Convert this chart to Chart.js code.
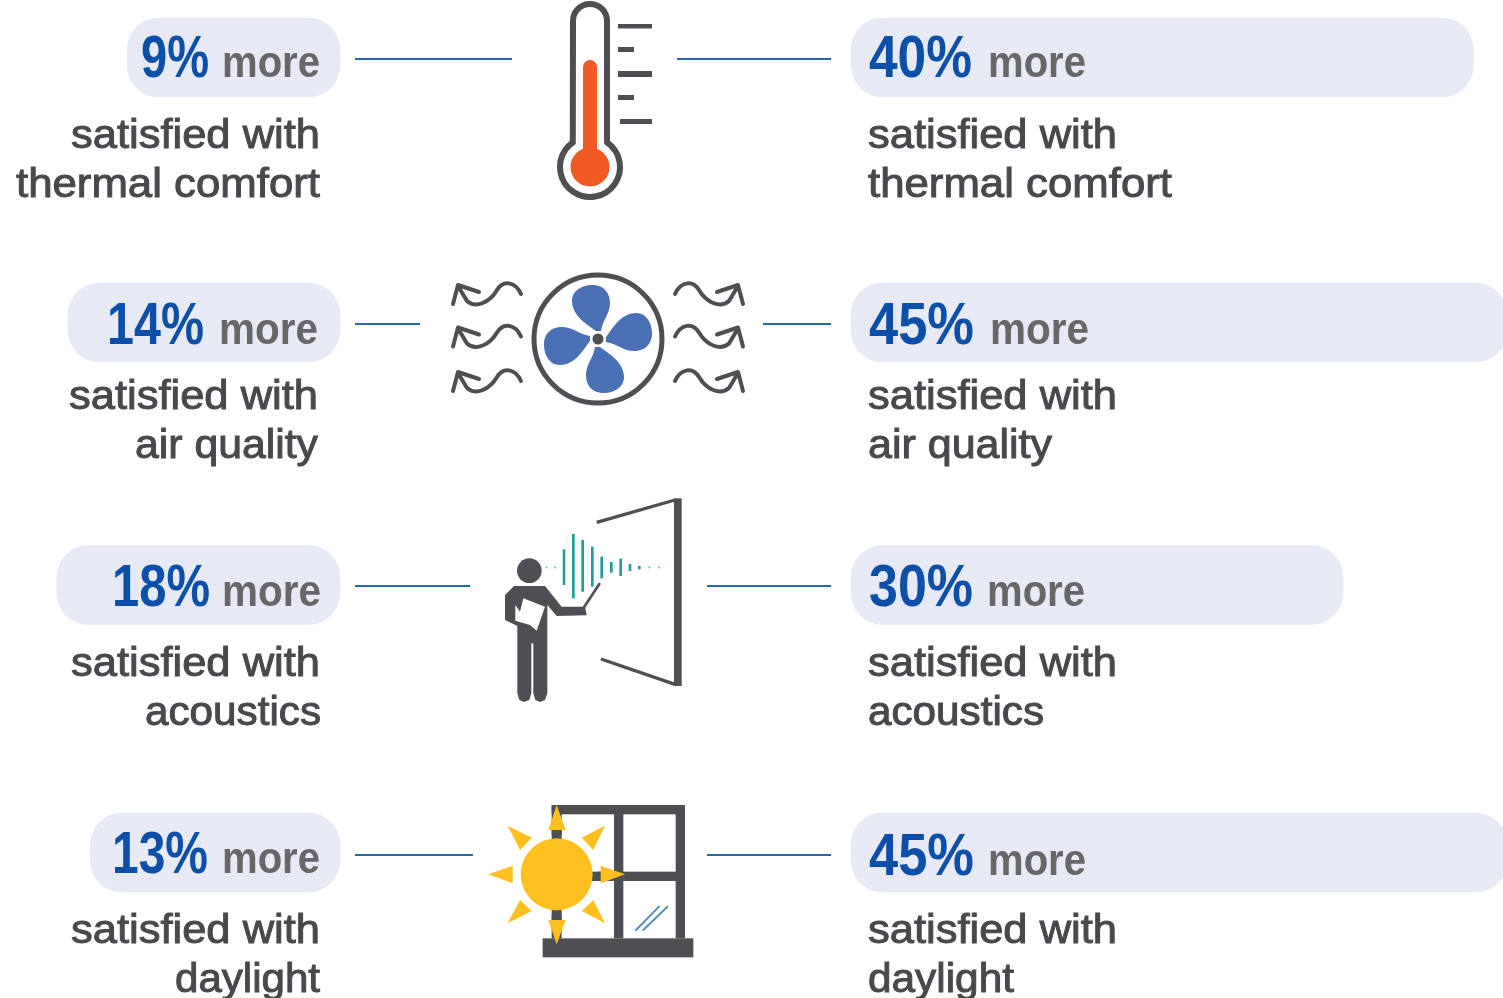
<!DOCTYPE html>
<html>
<head>
<meta charset="utf-8">
<title>Satisfaction</title>
<script src="https://cdn.jsdelivr.net/npm/chart.js@4/dist/chart.umd.min.js"></script>
<style>
  html, body { margin: 0; padding: 0; background: #fff; overflow: hidden; }
  canvas { display: block; }
</style>
</head>
<body>
<canvas id="myChart" width="1503" height="998"></canvas>
<script>
const categories = ['thermal comfort', 'air quality', 'acoustics', 'daylight'];
const leftPercent = [9, 14, 18, 13];
const rightPercent = [40, 45, 30, 45];
// pill lengths, the pills are not drawn to scale with the labels
const leftPillLength = [13.3, 17, 17.7, 15.6];
const rightPillLength = [38.9, 41, 30.75, 41];

const GREY = '#4d4f53';
const BLUE_TEXT = '#0b4fa8';
const PILL = '#e7e9f5';
const LABEL_FONT = '41px "Liberation Sans"';
const PERCENT_FONT = 'bold 60px "Liberation Sans"';
const MORE_FONT = 'bold 44px "Liberation Sans"';

// squeeze or stretch a text so it takes the width it has in the picture
function fitText(ctx, text, x, y, width, heavier) {
    const natural = ctx.measureText(text).width;
    ctx.save();
    ctx.translate(x, y);
    ctx.scale(width / natural, 1);
    ctx.fillText(text, 0, 0);
    if (heavier) {
        ctx.strokeStyle = ctx.fillStyle;
        ctx.lineWidth = heavier;
        ctx.strokeText(text, 0, 0);
    }
    ctx.restore();
}

function drawTexts(ctx) {
    const sideLayout = [
        {
            percent: leftPercent,
            percentX: [[141, 68], [107, 97], [112, 98], [112, 96]],
            moreX: [[222, 98], [219, 99], [222, 99], [222, 98]],
            baseline: [77, 344, 606, 873],
            line1: [[71, 249], [69, 249], [71, 249], [71, 249]],
            line2: [[16, 304], [135, 183], [145, 176], [175, 145]]
        },
        {
            percent: rightPercent,
            percentX: [[869, 103], [869, 105], [869, 104], [869, 105]],
            moreX: [[988, 98], [990, 99], [987, 98], [988, 98]],
            baseline: [77, 344, 606, 875],
            line1: [[868, 249], [868, 249], [868, 249], [868, 249]],
            line2: [[868, 304], [868, 184], [868, 176], [868, 146]]
        }
    ];
    const line1Y = [148, 409, 676, 943];
    const line2Y = [197, 458, 725, 992];

    ctx.save();
    ctx.textAlign = 'left';
    ctx.textBaseline = 'alphabetic';
    sideLayout.forEach(side => {
        categories.forEach((name, i) => {
            ctx.fillStyle = BLUE_TEXT;
            ctx.font = PERCENT_FONT;
            fitText(ctx, side.percent[i] + '%', side.percentX[i][0], side.baseline[i], side.percentX[i][1]);
            ctx.fillStyle = '#666769';
            ctx.font = MORE_FONT;
            fitText(ctx, 'more', side.moreX[i][0], side.baseline[i], side.moreX[i][1]);
            ctx.fillStyle = '#47494d';
            ctx.font = LABEL_FONT;
            fitText(ctx, 'satisfied with', side.line1[i][0], line1Y[i], side.line1[i][1], 1);
            fitText(ctx, name, side.line2[i][0], line2Y[i], side.line2[i][1], 1);
        });
    });
    ctx.restore();
}

function drawConnectors(ctx) {
    const lines = [
        [355, 512, 59], [677, 831, 59],
        [355, 420, 324], [763, 831, 324],
        [355, 470, 586], [707, 831, 586],
        [355, 473, 855], [707, 831, 855]
    ];
    ctx.save();
    ctx.strokeStyle = '#2569a8';
    ctx.lineWidth = 2;
    lines.forEach(l => {
        ctx.beginPath();
        ctx.moveTo(l[0], l[2]);
        ctx.lineTo(l[1], l[2]);
        ctx.stroke();
    });
    ctx.restore();
}

function drawThermometer(ctx) {
    ctx.save();
    ctx.strokeStyle = GREY;
    ctx.lineWidth = 6;
    ctx.beginPath();
    ctx.arc(590, 21, 17, Math.PI, 0);
    ctx.lineTo(607, 142);
    ctx.arc(590, 167, 30, -0.96, Math.PI + 0.96);
    ctx.closePath();
    ctx.stroke();

    ctx.fillStyle = '#f15a22';
    ctx.beginPath();
    ctx.arc(590, 167, 19.5, 0, Math.PI * 2);
    ctx.fill();
    ctx.beginPath();
    ctx.arc(590, 67, 7, Math.PI, 0);
    ctx.lineTo(597, 160);
    ctx.lineTo(583, 160);
    ctx.closePath();
    ctx.fill();

    ctx.fillStyle = GREY;
    ctx.fillRect(618, 24, 34, 4.5);
    ctx.fillRect(618, 47, 16, 5);
    ctx.fillRect(618, 71, 34, 6);
    ctx.fillRect(618, 95, 16, 5);
    ctx.fillRect(620, 119, 32, 5);
    ctx.restore();
}

function drawWave(ctx, dy, mirror) {
    ctx.save();
    if (mirror) {
        ctx.translate(1196, 0);
        ctx.scale(-1, 1);
    }
    ctx.translate(0, dy);
    ctx.strokeStyle = GREY;
    ctx.lineWidth = 4;
    ctx.lineCap = 'round';
    ctx.lineJoin = 'round';
    ctx.beginPath();
    ctx.moveTo(521, 294);
    ctx.bezierCurveTo(515, 281, 503, 280, 497, 290);
    ctx.bezierCurveTo(490, 302, 476, 309, 467, 301);
    ctx.lineTo(458, 286);
    ctx.moveTo(453, 304);
    ctx.lineTo(458, 285);
    ctx.lineTo(479, 292);
    ctx.stroke();
    ctx.restore();
}

function drawFan(ctx) {
    ctx.save();
    ctx.strokeStyle = GREY;
    ctx.lineWidth = 5;
    ctx.beginPath();
    ctx.arc(598, 339, 64, 0, Math.PI * 2);
    ctx.stroke();

    ctx.fillStyle = '#4a6fb5';
    ctx.translate(598, 339);
    for (let i = 0; i < 4; i++) {
        ctx.beginPath();
        ctx.moveTo(-2, -8);
        ctx.bezierCurveTo(-8, -13, -26, -22, -26, -38);
        ctx.bezierCurveTo(-26, -49, -15, -54, -6, -54);
        ctx.bezierCurveTo(7, -54, 12, -45, 12, -36);
        ctx.bezierCurveTo(12, -25, 5, -20, 3, -8);
        ctx.closePath();
        ctx.fill();
        ctx.rotate(Math.PI / 2);
    }
    ctx.fillStyle = GREY;
    ctx.beginPath();
    ctx.arc(0, 0, 5.5, 0, Math.PI * 2);
    ctx.fill();
    ctx.restore();

    [0, 42.5, 87].forEach(dy => {
        drawWave(ctx, dy, false);
        drawWave(ctx, dy, true);
    });
}

function polygon(ctx, pts) {
    ctx.beginPath();
    pts.forEach((p, i) => i ? ctx.lineTo(p[0], p[1]) : ctx.moveTo(p[0], p[1]));
    ctx.closePath();
    ctx.fill();
}

function drawListener(ctx) {
    ctx.save();
    ctx.translate(490, 490);
    ctx.scale(1 / 3, 1 / 3);

    ctx.fillStyle = GREY;
    ctx.fillRect(552, 25, 23, 563);
    ctx.strokeStyle = GREY;
    ctx.lineWidth = 10;
    ctx.beginPath();
    ctx.moveTo(320, 97);
    ctx.lineTo(555, 30);
    ctx.moveTo(333, 507);
    ctx.lineTo(555, 583);
    ctx.stroke();

    ctx.beginPath();
    ctx.arc(118, 242, 37, 0, Math.PI * 2);
    ctx.fill();

    polygon(ctx, [[72, 288], [165, 288], [215, 350], [285, 350], [290, 376], [200, 378], [172, 345],
        [172, 610], [165, 630], [150, 636], [136, 630], [130, 610], [130, 460], [124, 460], [124, 610],
        [118, 630], [102, 636], [88, 630], [82, 610], [82, 408], [45, 390], [45, 315]]);
    ctx.fillStyle = '#fff';
    polygon(ctx, [[100, 325], [165, 350], [140, 422], [120, 405], [76, 392], [76, 345], [90, 365]]);

    ctx.lineWidth = 8;
    ctx.lineCap = 'round';
    ctx.beginPath();
    ctx.moveTo(282, 352);
    ctx.lineTo(328, 282);
    ctx.stroke();

    const bars = [[222, 178, 285], [250, 132, 325], [278, 150, 305], [307, 170, 290], [335, 200, 265],
        [364, 216, 248], [392, 206, 258], [420, 222, 243], [448, 228, 238]];
    ctx.strokeStyle = '#1f9e96';
    ctx.lineCap = 'butt';
    bars.forEach(b => {
        ctx.beginPath();
        ctx.moveTo(b[0], b[1]);
        ctx.lineTo(b[0], b[2]);
        ctx.stroke();
    });
    ctx.fillStyle = '#7cc6c1';
    [170, 195, 478, 507].forEach(x => ctx.fillRect(x - 3, 229, 6, 6));
    ctx.restore();
}

function drawSunWindow(ctx) {
    ctx.save();
    ctx.translate(480, 795);
    ctx.scale(1 / 3, 1 / 3);

    ctx.fillStyle = GREY;
    ctx.fillRect(215, 30, 400, 28);
    ctx.fillRect(587, 30, 28, 400);
    ctx.fillRect(402, 30, 28, 400);
    ctx.fillRect(215, 30, 30, 400);
    ctx.fillRect(300, 230, 300, 28);
    ctx.fillRect(188, 430, 452, 57);

    ctx.strokeStyle = '#5b8db8';
    ctx.lineWidth = 6;
    ctx.lineCap = 'round';
    ctx.beginPath();
    ctx.moveTo(468, 405);
    ctx.lineTo(537, 335);
    ctx.moveTo(490, 405);
    ctx.lineTo(562, 335);
    ctx.stroke();

    ctx.fillStyle = '#fff';
    ctx.beginPath();
    ctx.arc(230, 238, 122, 0, Math.PI * 2);
    ctx.fill();
    ctx.fillStyle = GREY;
    ctx.fillRect(215, 100, 30, 40);
    ctx.fillRect(215, 336, 30, 44);
    ctx.fillRect(330, 230, 40, 28);

    ctx.fillStyle = '#fdc020';
    ctx.beginPath();
    ctx.arc(230, 238, 108, 0, Math.PI * 2);
    ctx.fill();
    [
        [[230, 30], [205, 105], [257, 105]],
        [[230, 448], [205, 375], [257, 375]],
        [[435, 238], [362, 212], [362, 265]],
        [[25, 238], [98, 212], [98, 265]],
        [[83, 92], [155, 128], [120, 165]],
        [[375, 92], [305, 128], [340, 165]],
        [[83, 385], [155, 348], [120, 315]],
        [[375, 385], [305, 348], [340, 315]]
    ].forEach(t => polygon(ctx, t));
    ctx.restore();
}

const decorations = {
    id: 'decorations',
    afterDatasetsUpdate(chart) {
        // the third row sits a little higher than an even spacing would put it
        chart.data.datasets.forEach((d, i) => {
            chart.getDatasetMeta(i).data[2].y -= 2.5;
        });
    },
    afterDraw(chart) {
        const ctx = chart.ctx;
        drawConnectors(ctx);
        drawThermometer(ctx);
        drawFan(ctx);
        drawListener(ctx);
        drawSunWindow(ctx);
        drawTexts(ctx);
    }
};

const ctx = document.getElementById('myChart');
const myChart = new Chart(ctx, {
    type: 'bar',
    data: {
        labels: categories,
        datasets: [
            {
                label: 'Left',
                data: leftPillLength,
                xAxisID: 'xLeft',
                backgroundColor: PILL,
            }, {
                label: 'Right',
                data: rightPillLength,
                xAxisID: 'xRight',
                backgroundColor: PILL,
            }
        ]
    },
    options: {
        indexAxis: 'y',
        responsive: false,
        animation: false,
        layout: { padding: { top: 57.5, bottom: 145.5, left: 0, right: 0 } },
        datasets: {
            bar: {
                grouped: false,
                clip: false,
                barThickness: 79,
                borderRadius: 32,
                borderSkipped: false,
            }
        },
        scales: {
            xLeft: { type: 'linear', axis: 'x', display: false, reverse: true, min: -1163 / 16, max: 340 / 16 },
            xRight: { type: 'linear', axis: 'x', display: false, min: -851 / 16, max: 652 / 16 },
            y: { type: 'category', display: false, offset: false }
        },
        plugins: {
            legend: { display: false },
            tooltip: { enabled: false },
        }
    },
    plugins: [decorations]
});
</script>
</body>
</html>
